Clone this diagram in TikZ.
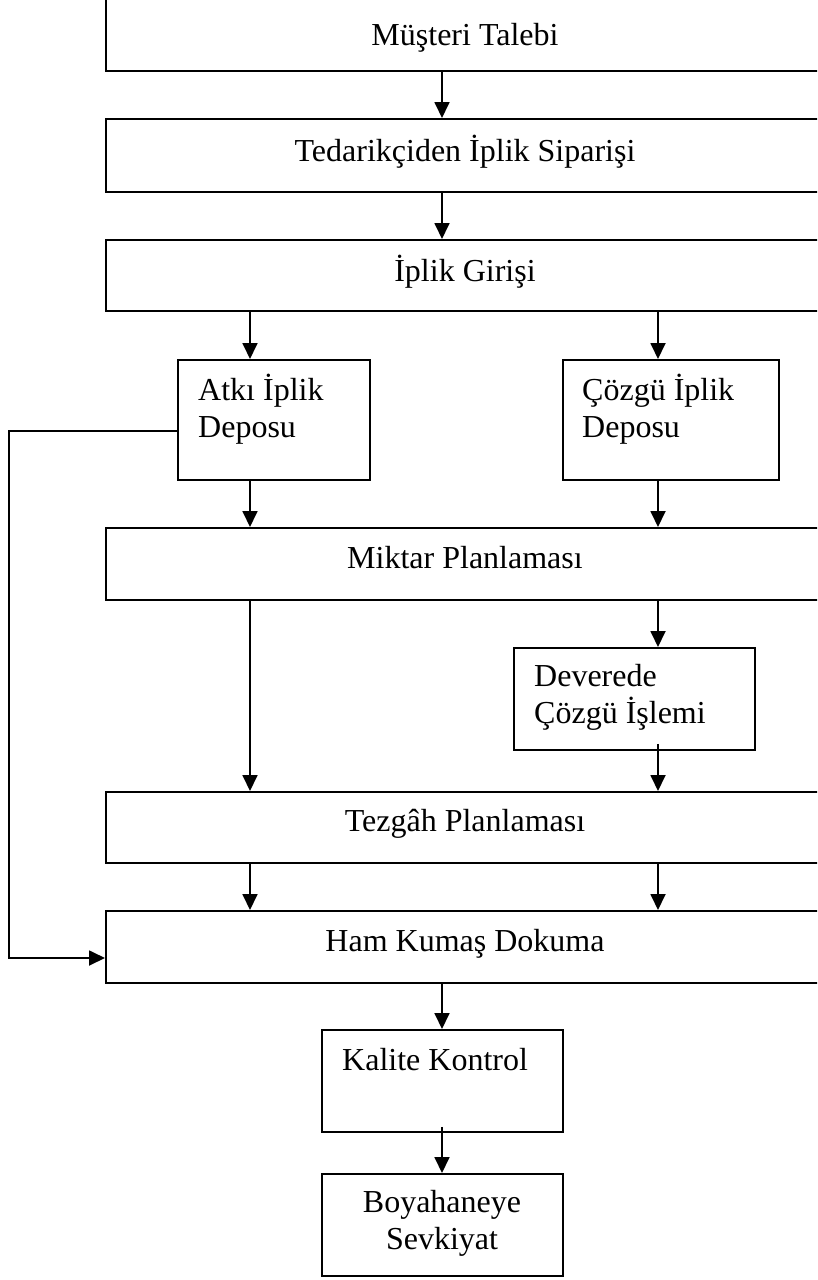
\documentclass[tikz,border=0pt]{standalone}
\usepackage{fontspec}
\setmainfont{Liberation Serif}
\usetikzlibrary{arrows.meta}
\begin{document}
\begin{tikzpicture}[x=1pt,y=-1pt,
  box/.style={draw, line width=1.8pt, inner sep=0pt, anchor=north west},
  lbl/.style={inner sep=0pt, font=\fontsize{32pt}{37pt}\selectfont},
  arr/.style={line width=1.8pt, -{Triangle[length=16pt,width=15pt]}},
]
\useasboundingbox (0,0) rectangle (817,1280);
\clip (0,0) rectangle (817,1280);
% columns
\coordinate (xa) at (250,0);
\coordinate (xb) at (658,0);
\coordinate (xm) at (442,0);
% boxes
\node[box, minimum width=720pt, minimum height=73pt] (b1) at (105,-3) {};
\node[box, minimum width=720pt, minimum height=73pt] (b2) at (105,118) {};
\node[box, minimum width=720pt, minimum height=71pt] (b3) at (105,239) {};
\node[box, minimum width=192pt, minimum height=120pt] (atki) at (177,359) {};
\node[box, minimum width=216pt, minimum height=120pt] (cozgu) at (562,359) {};
\node[box, minimum width=720pt, minimum height=72pt] (miktar) at (105,527) {};
\node[box, minimum width=241pt, minimum height=102pt] (dev) at (513,647) {};
\node[box, minimum width=720pt, minimum height=71pt] (tez) at (105,791) {};
\node[box, minimum width=720pt, minimum height=72pt] (ham) at (105,910) {};
\node[box, minimum width=241pt, minimum height=102pt] (kal) at (321,1029) {};
\node[box, minimum width=241pt, minimum height=102pt] (boy) at (321,1173) {};
% texts
\node[lbl, anchor=base] (t1) at (465,45) {Müşteri Talebi};
\node[lbl, anchor=base] (t2) at (465,161) {Tedarikçiden İplik Siparişi};
\node[lbl, anchor=base] (t3) at (465,281) {İplik Girişi};
\node[lbl, anchor=base west, align=left] (ta) at (198,437) {Atkı İplik\\Deposu};
\node[lbl, anchor=base west, align=left] (tc) at (582,437) {Çözgü İplik\\Deposu};
\node[lbl, anchor=base] (tm) at (465,568) {Miktar Planlaması};
\node[lbl, anchor=base west, align=left] (td) at (534,723) {Deverede\\Çözgü İşlemi};
\node[lbl, anchor=base] (tt) at (465,831) {Tezgâh Planlaması};
\node[lbl, anchor=base] (th) at (465,951) {Ham Kumaş Dokuma};
\node[lbl, anchor=base west] (tk) at (342,1070) {Kalite Kontrol};
\node[lbl, anchor=base, align=center] (tb) at (442,1249) {Boyahaneye\\Sevkiyat};
% arrows
\draw[arr] (b1.south -| xm) -- (b2.north -| xm);
\draw[arr] (b2.south -| xm) -- (b3.north -| xm);
\draw[arr] (b3.south -| xa) -- (atki.north -| xa);
\draw[arr] (b3.south -| xb) -- (cozgu.north -| xb);
\draw[arr] (atki.south -| xa) -- (miktar.north -| xa);
\draw[arr] (cozgu.south -| xb) -- (miktar.north -| xb);
\draw[arr] (miktar.south -| xa) -- (tez.north -| xa);
\draw[arr] (miktar.south -| xb) -- (dev.north -| xb);
\draw[arr] ([yshift=7pt]dev.south -| xb) -- (tez.north -| xb);
\draw[arr] (tez.south -| xa) -- (ham.north -| xa);
\draw[arr] (tez.south -| xb) -- (ham.north -| xb);
\draw[arr] (ham.south -| xm) -- (kal.north -| xm);
\draw[arr] ([yshift=6pt]kal.south -| xm) -- (boy.north -| xm);
% feedback
\coordinate (fb) at (9,431);
\coordinate (fbe) at (9,958);
\draw[arr] (atki.west |- fb) -- (fb) -- (fbe) -- (ham.west |- fbe);
\end{tikzpicture}
\end{document}
